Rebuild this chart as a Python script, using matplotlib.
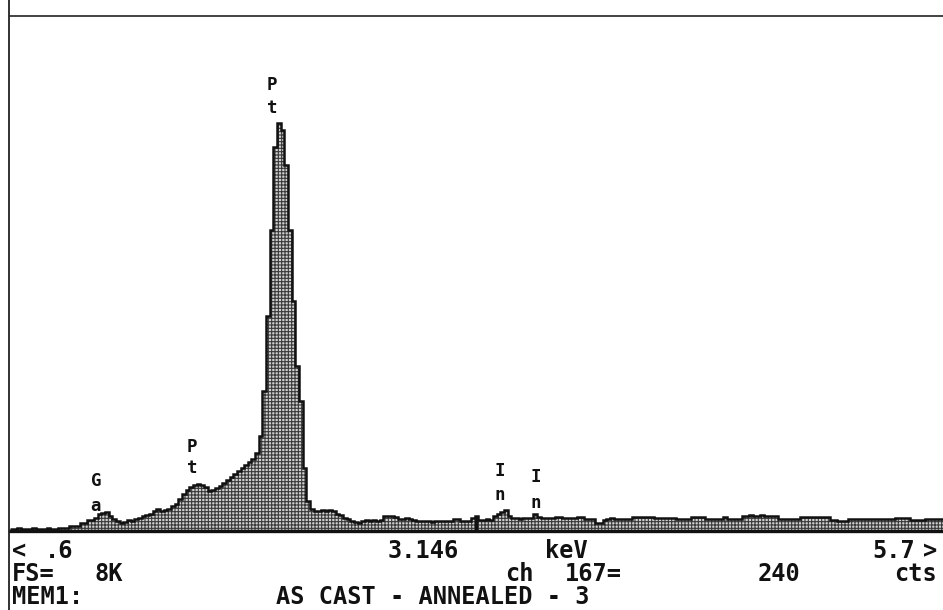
import matplotlib
matplotlib.use("Agg")
import matplotlib.pyplot as plt
from matplotlib.lines import Line2D
import numpy as np

# ---------------- data ----------------
E_START = 0.6          # keV, left edge of display
E_END = 5.7            # keV, right edge of display
BIN_KEV = 0.02         # channel width
FULL_SCALE = 8000      # FS = 8K

counts = [
    31, 31, 47, 31, 31, 31, 47, 31, 31, 31, 47, 31, 31,
    47, 47, 47, 78, 78, 78, 124, 124, 171, 171, 202, 265, 280,
    296, 233, 187, 156, 124, 140, 171, 156, 187, 202, 233, 249, 265,
    311, 342, 311, 327, 342, 389, 420, 498, 576, 638, 685, 716, 731,
    716, 685, 622, 638, 669, 700, 747, 794, 840, 887, 934, 980, 1027,
    1074, 1121, 1214, 1479, 2179, 3346, 4669, 5961, 6335, 6226, 5681, 4669, 3580,
    2568, 2023, 980, 467, 342, 311, 311, 327, 311, 327, 311, 265, 249,
    202, 187, 156, 140, 124, 156, 171, 156, 171, 156, 171, 233, 233,
    233, 218, 187, 187, 202, 187, 171, 156, 156, 156, 156, 140, 156,
    156, 156, 156, 156, 187, 187, 156, 156, 156, 202, 240, 171, 171,
    187, 171, 233, 265, 296, 327, 233, 202, 202, 187, 202, 202, 202,
    265, 218, 202, 202, 202, 202, 218, 218, 202, 202, 202, 202, 218,
    218, 187, 187, 187, 124, 124, 171, 187, 202, 187, 187, 187, 187,
    187, 218, 218, 218, 218, 218, 218, 202, 202, 202, 202, 202, 202,
    187, 187, 187, 187, 218, 218, 218, 218, 187, 187, 187, 187, 187,
    218, 187, 187, 187, 187, 233, 233, 249, 233, 233, 249, 233, 233,
    233, 233, 187, 187, 187, 187, 187, 187, 218, 218, 218, 218, 218,
    218, 218, 218, 171, 171, 156, 156, 156, 187, 187, 187, 187, 187,
    187, 187, 187, 187, 187, 187, 187, 187, 202, 202, 202, 202, 171,
    171, 171, 171, 187, 187, 187, 187, 187,
]

# element markers: (symbol, energy keV, counts at upper letter, counts at lower letter)
peak_symbols = ["Ga", "Pt", "Pt", "In", "In"]
peak_energy = [1.07, 1.595, 2.032, 3.278, 3.475]
peak_label_top = [778, 1307, 6926, 934, 840]
peak_label_bot = [389, 980, 6568, 560, 436]

cursor_energy = 3.146
cursor_counts = 240

# ---------------- figure ----------------
W, H = 943, 610
fig = plt.figure(figsize=(W / 100, H / 100), dpi=100)
fig.patch.set_facecolor("white")

ax = fig.add_axes([10 / W, (H - 531) / H, 933 / W, 515 / H])
ax.set_xlim(E_START, E_END)
ax.set_ylim(0, FULL_SCALE)
ax.set_xticks([])
ax.set_yticks([])
for s in ["left", "right"]:
    ax.spines[s].set_visible(False)
ax.spines["top"].set_linewidth(1.2)
ax.spines["top"].set_color("#222222")
ax.spines["bottom"].set_linewidth(2.4)
ax.spines["bottom"].set_color("#111111")

edges = E_START + BIN_KEV * np.arange(len(counts) + 1)

plt.rcParams["hatch.linewidth"] = 0.8
ax.stairs(counts, edges, baseline=0, fill=True, facecolor="#d0d0d0",
          edgecolor="#3a3a3a", hatch="+++++", linewidth=0)
ax.stairs(counts, edges, baseline=None, fill=False, color="#111111",
          linewidth=1.8)
ax.vlines(cursor_energy, 0, cursor_counts, color="#111111", linewidth=2.5)

mono = "DejaVu Sans Mono"
for sym, e, yt, yb in zip(peak_symbols, peak_energy, peak_label_top, peak_label_bot):
    ax.text(e, yt, sym[0], ha="center", va="center", fontsize=12.5,
            family=mono, fontweight="bold", color="#111111")
    ax.text(e, yb, sym[1], ha="center", va="center", fontsize=12.5,
            family=mono, fontweight="bold", color="#111111")

# left frame line running full height
fig.add_artist(Line2D([9 / W, 9 / W], [0, 1], transform=fig.transFigure,
                      color="#222222", linewidth=1.3))

def ftext(x, y, s, ha="left"):
    fig.text(x / W, 1 - y / H, s, ha=ha, va="center", fontsize=17,
             family=mono, fontweight="bold", color="#111111")

# row 1
ftext(12, 551, "<")
ftext(45, 551, ".6")
ftext(388, 551, "3.146")
ftext(545, 551, "keV")
ftext(872, 551, "5.7")
ftext(937, 551, ">", ha="right")
# row 2
ftext(12, 574, "FS=")
ftext(95, 574, "8K")
ftext(505, 574, "ch")
ftext(565, 574, "167=")
ftext(758, 574, "240")
ftext(937, 574, "cts", ha="right")
# row 3
ftext(12, 597, "MEM1:")
ftext(433, 597, "AS CAST - ANNEALED - 3", ha="center")

fig.savefig("out.png", dpi=100, facecolor="white")
